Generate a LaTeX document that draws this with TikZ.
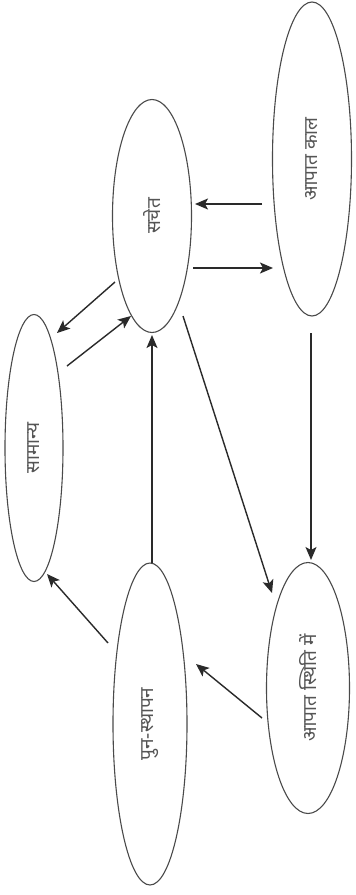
\documentclass[tikz,border=0pt]{standalone}
\usepackage{fontspec}
\newfontfamily\dev[Script=Devanagari]{Noto Sans}
\usetikzlibrary{shapes.geometric,arrows.meta}
\definecolor{ink}{HTML}{4A4A4A}
\definecolor{arrowink}{HTML}{2A2A2A}
\definecolor{txt}{HTML}{555555}
\begin{document}
\begin{tikzpicture}[x=1pt,y=-1pt,
  oval/.style={draw=ink,line width=1.1pt,ellipse,inner sep=0pt,rotate=90,
    font=\dev\fontsize{19}{22}\selectfont,text=txt},
  arr/.style={draw=arrowink,line width=1.4pt,-{Stealth[length=13pt,width=11pt,inset=3pt]}}]
\fill[white] (0,0) rectangle (356,895);
\useasboundingbox (0,0) rectangle (356,895);
\node[oval,minimum width=233pt,minimum height=79pt] (sachet) at (152,216) {सचेत};
\node[oval,minimum width=314pt,minimum height=79pt] (kal) at (312,159) {आपात काल};
\node[oval,minimum width=267pt,minimum height=58pt] (samanya) at (34,448) {सामान्य};
\node[oval,minimum width=322pt,minimum height=74pt] (pun) at (150,724) {पुन-स्थापन};
\node[oval,minimum width=251pt,minimum height=83pt] (sthiti) at (308,688) {आपात स्थिति में};
% connector end points
\coordinate (a1) at (262,204); \coordinate (b1) at (195,204);
\coordinate (a2) at (193,268); \coordinate (b2) at (273,268);
\coordinate (a3) at (115,282); \coordinate (b3) at (57,333);
\coordinate (a4) at (67,366);  \coordinate (b4) at (131,316);
\coordinate (a5) at (183,316); \coordinate (b5) at (272,593);
\coordinate (a6) at (311,333); \coordinate (b6) at (311,560);
\coordinate (a7) at (262,718); \coordinate (b7) at (196,664);
\coordinate (a8) at (152,563); \coordinate (b8) at (152,335);
\coordinate (a9) at (108,643); \coordinate (b9) at (47,574);
\draw[arr] (a1) -- (b1);
\draw[arr] (a2) -- (b2);
\draw[arr] (a3) -- (b3);
\draw[arr] (a4) -- (b4);
\draw[arr] (a5) -- (b5);
\draw[arr] (a6) -- (b6);
\draw[arr] (a7) -- (b7);
\draw[arr] (a8) -- (b8);
\draw[arr] (a9) -- (b9);
\end{tikzpicture}
\end{document}
